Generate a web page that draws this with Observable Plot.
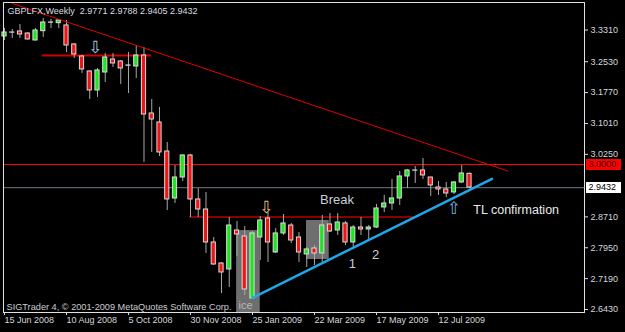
<!DOCTYPE html>
<html><head><meta charset="utf-8">
<script src="https://cdn.jsdelivr.net/npm/d3@7"></script>
<script src="https://cdn.jsdelivr.net/npm/@observablehq/plot@0.6"></script>
<style>html,body{margin:0;padding:0;background:#000;} #chart{width:625px;height:332px;overflow:hidden}</style>
</head><body><div id="chart"></div>
<script>
// Weekly candles, week index 0 = 15 Jun 2008
const opens  = [3.3152,3.3250,3.3275,3.3225,3.3053,3.3282,3.3496,3.3479,3.3423,3.2955,3.2659,3.2290,3.1822,3.2265,3.2585,3.2536,3.2438,3.2413,3.2684,3.1256,3.1034,3.0320,2.9163,2.9680,3.0222,2.9139,2.8892,2.8080,2.7563,2.7415,2.8375,2.8228,2.6701,2.8203,2.8671,2.7834,2.8302,2.8498,2.8203,2.7785,2.7932,2.7809,2.8523,2.8375,2.8548,2.8080,2.8449,2.8400,2.8449,2.8942,2.9040,2.9163,2.9705,2.9853,2.9853,2.9680,2.9434,2.9385,2.9311,2.9557,2.9771];
const highs  = [3.3349,3.3324,3.3447,3.3250,3.3349,3.3595,3.3570,3.3558,3.3546,3.2979,3.2684,3.2315,3.2364,3.2733,3.2733,3.2561,3.2758,3.2930,3.2881,3.1600,3.1404,3.0542,2.9976,3.0246,3.0246,2.9409,2.9311,2.8203,2.7587,2.8695,2.8597,2.8474,2.8351,2.8720,2.8818,2.8425,2.8769,2.8548,2.8326,2.7957,2.8006,2.8745,2.8794,2.8794,2.8597,2.8498,2.8695,2.8498,2.9016,2.9237,2.9631,2.9828,2.9877,2.9951,3.0148,2.9680,2.9582,2.9557,2.9582,2.9976,2.9788];
const lows   = [3.3053,3.3102,3.3102,3.3065,3.3041,3.3127,3.3349,3.3349,3.2758,3.2610,3.2241,3.1600,3.1650,3.2019,3.2388,3.1970,3.1748,3.2118,3.0050,3.0296,3.0197,2.8868,2.9040,2.9582,2.8695,2.8695,2.7809,2.7514,2.6821,2.6969,2.7735,2.6775,2.6676,2.7637,2.7587,2.7809,2.8253,2.8055,2.7587,2.7465,2.7514,2.7587,2.8326,2.8252,2.8006,2.7957,2.8252,2.8129,2.8425,2.8819,2.8868,2.8991,2.9409,2.9533,2.9631,2.9213,2.9237,2.9188,2.9262,2.9533,2.9405];
const closes = [3.3250,3.3245,3.3201,3.3078,3.3299,3.3496,3.3490,3.3546,3.2930,3.2709,3.2339,3.1822,3.2315,3.2635,3.2487,3.2364,3.2432,3.2684,3.1231,3.1108,3.0296,2.9139,2.9680,3.0222,2.9139,2.8892,2.8080,2.7538,2.7341,2.8498,2.8277,2.6923,2.8302,2.8622,2.8080,2.8302,2.8548,2.8129,2.7834,2.7908,2.7809,2.8498,2.8351,2.8572,2.8080,2.8449,2.8400,2.8449,2.8917,2.9040,2.9163,2.9705,2.9853,2.9848,2.9730,2.9483,2.9385,2.9286,2.9557,2.9779,2.9432];

const dateTickIdx    = [0, 8, 16, 24, 32, 40, 48, 56];
const dateTickLabels = ["15 Jun 2008","10 Aug 2008","5 Oct 2008","30 Nov 2008","25 Jan 2009","22 Mar 2009","17 May 2009","12 Jul 2009"];
const priceTicks     = [3.3310, 3.2530, 3.1770, 3.1010, 3.0250, 2.8710, 2.7950, 2.7190, 2.6430];

const levelPrice = 3.0000;
const currentPrice = 2.9432;
const boxPrices = [3.0000, 2.9432];

// horizontal segments: start week, end week, price
const segStart = [4.9, 23.9];
const segEnd   = [19.0, 52.8];
const segPrice = [3.2684, 2.8708];

// trend lines (week index, price)
const resistIdx   = [1, 65];
const resistPrice = [3.3964, 2.9835];
const supportIdx   = [32, 62.9];
const supportPrice = [2.6718, 2.9648];

// gray highlight boxes
const boxX1 = [29.95, 38.97];
const boxX2 = [33.0, 41.9];
const boxY1 = [2.8373, 2.8622];
const boxY2 = [2.6356, 2.7661];

const title = "GBPLFX,Weekly\u00a0\u00a02.9771 2.9788 2.9405 2.9432";
const copyright = "SIGTrader 4, © 2001-2009 MetaQuotes Software Corp.";

const noteText  = ["Break", "1", "2"];
const noteIdx   = [42.9, 44.9, 47.9];
const notePrice = [2.9139, 2.7563, 2.7785];

const arrowText  = ["⇩", "⇩", "⇧"];
const arrowIdx   = [11.74, 33.8, 58.0];
const arrowPrice = [3.2869, 2.8929, 2.8905];

const tlText = "TL confirmation";
const tlIdx = 60.5, tlPrice = 2.8880;

const candles = opens.map((o, i) => ({i, o, h: highs[i], l: lows[i], c: closes[i]}));
const segs = segStart.map((s, k) => ({x1: s, x2: segEnd[k], p: segPrice[k]}));
const boxes = boxX1.map((x, k) => ({x1: x, x2: boxX2[k], y1: boxY1[k], y2: boxY2[k]}));
const resist = resistIdx.map((x, k) => ({x, p: resistPrice[k]}));
const support = supportIdx.map((x, k) => ({x, p: supportPrice[k]}));
const notes = noteText.map((t, k) => ({t, i: noteIdx[k], p: notePrice[k]}));
const arrowColors = ["#a8c4e4", "#e8b878", "#78aee8"];
const arrows = arrowText.map((t, k) => ({t, i: arrowIdx[k], p: arrowPrice[k], c: arrowColors[k]}));

const FONT = "'Liberation Sans', Arial, sans-serif";
const GREEN = "#1ee61e", RED = "#f01414";
const xDomain = [-0.129, 74.839];
const W = 625, H = 332, mL = 3, mR = 41, mT = 2, mB = 20;
// helper to place the price tags just right of the frame (pixel -> week index)
const xPix = d3.scaleLinear().domain(xDomain).range([mL, W - mR]);
const tagX1 = xPix.invert(W - mR + 2), tagX2 = xPix.invert(W - mR + 37);

const chart = Plot.plot({
  width: W, height: H,
  marginLeft: mL, marginRight: mR, marginTop: mT, marginBottom: mB,
  style: {background: "#000", color: "#d4d8dc", fontFamily: FONT, fontSize: "9px", overflow: "visible"},
  x: {domain: xDomain},
  y: {domain: [2.6356, 3.3988]},
  marks: [
    Plot.rect(boxes, {x1: "x1", x2: "x2", y1: "y1", y2: "y2", fill: "#6e6e6e", clip: true}),
    Plot.ruleY([levelPrice], {stroke: "#ff0000", strokeWidth: 1}),
    Plot.ruleY([currentPrice], {stroke: "#55616b", strokeWidth: 1.3}),
    Plot.ruleY(segs, {y: "p", x1: "x1", x2: "x2", stroke: (d, k) => k === 0 ? "#d00000" : "#8a0000", strokeWidth: 2}),
    Plot.ruleX(candles, {x: "i", y1: "l", y2: "h", stroke: "#a8a8a8", strokeWidth: 1}),
    Plot.rect(candles, {x1: d => d.i - 0.27, x2: d => d.i + 0.27, y1: "o", y2: "c",
      fill: d => d.c >= d.o ? GREEN : RED, stroke: "#dcdcdc", strokeWidth: 1}),
    Plot.line(resist, {x: "x", y: "p", stroke: "#e00000", strokeWidth: 1, clip: true}),
    Plot.line(support, {x: "x", y: "p", stroke: "#1ea8ec", strokeWidth: 2.5, clip: true}),
    Plot.text(notes, {x: "i", y: "p", text: "t", fill: "#c8d0d8", fontSize: 13}),
    Plot.text(arrows, {x: "i", y: "p", text: "t", fill: "c", fontSize: 17, fontFamily: "DejaVu Sans"}),
    Plot.text([tlText], {x: tlIdx, y: tlPrice, textAnchor: "start", fill: "#e8ecf0", fontSize: 12.5}),
    Plot.text(["ice"], {x: 31.1, y: 2.6541, fill: "#b8b8b8", fontSize: 11}),
    Plot.text([title], {frameAnchor: "top-left", dx: 4, dy: 9, lineAnchor: "middle", textAnchor: "start", fill: "#d8dce0", fontSize: 9}),
    Plot.text([copyright], {frameAnchor: "bottom-left", dx: 3, dy: -5, lineAnchor: "middle", textAnchor: "start", fill: "#c8ccd0", fontSize: 9.2}),
    Plot.frame({stroke: "#e0e0e0"}),
    Plot.axisY({anchor: "right", ticks: priceTicks, tickFormat: d => d.toFixed(4), tickSize: 3, tickPadding: 3, stroke: "#e0e0e0", fill: "#d4d8dc", fontSize: 9}),
    Plot.axisX({anchor: "bottom", ticks: dateTickIdx, tickFormat: (d) => dateTickLabels[dateTickIdx.indexOf(d)], textAnchor: "start", tickSize: 3, tickPadding: 1, stroke: "#e0e0e0", fill: "#d4d8dc", fontSize: 9}),
    Plot.ruleY(boxPrices, {y: d => d, x1: tagX1, x2: tagX2, strokeWidth: 11, stroke: (d, k) => k === 0 ? "#ff0000" : "#ffffff"}),
    Plot.text(boxPrices, {y: d => d, frameAnchor: "right", dx: 4, textAnchor: "start", text: d => d.toFixed(4), fill: (d, k) => k === 0 ? "#300000" : "#000000", fontSize: 9})
  ]
});
document.getElementById("chart").appendChild(chart);
</script>
</body></html>
